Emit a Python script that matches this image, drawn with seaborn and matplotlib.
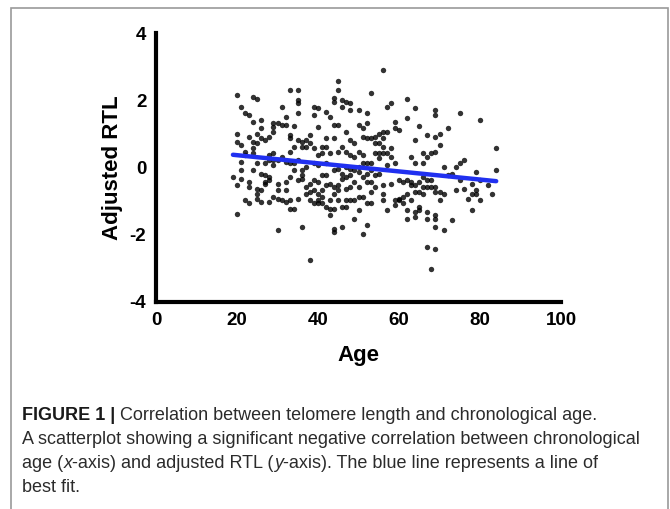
import numpy as np
import pandas as pd
import matplotlib
matplotlib.use("Agg")
import matplotlib.pyplot as plt
from matplotlib.patches import Rectangle
import seaborn as sns

# ---- data ----
ages = [19, 20, 21, 22, 23, 24, 25, 26, 27, 28, 29, 30, 31, 32, 33, 34, 35, 36, 37, 38,
        39, 40, 41, 42, 43, 44, 45, 46, 47, 48, 49, 50, 51, 52, 53, 54, 55, 56, 57, 58,
        59, 60, 61, 62, 63, 64, 65, 66, 67, 68, 69, 70, 71, 72, 73, 74, 75, 76, 77, 78,
        79, 80, 82, 83, 84]
rtl_by_age = [
    [-0.28],
    [2.16, 0.99, 0.77, -0.53, -1.37],
    [1.81, 0.67, 0.17, -0.08, -0.35],
    [1.61, 0.47, 0.37, -0.98],
    [1.56, 0.92, -0.43, -0.58, -1.07],
    [2.11, 1.36, 0.77, 0.57, 0.42, -0.08],
    [2.03, 1.01, 0.72, 0.12, -0.63, -0.78, -0.93],
    [1.41, 1.16, 0.87, -0.18, -0.68, -1.02],
    [0.82, 0.12, -0.23, -0.43, -0.48],
    [0.92, 0.37, 0.22, -0.28, -0.38, -1.02],
    [1.31, 1.21, 1.06, 0.42, 0.22, 0.07, -0.88],
    [1.31, 0.22, -0.48, -0.68, -0.93, -1.87],
    [1.81, 1.26, 0.32, -0.98],
    [1.51, 1.26, 0.17, -0.43, -0.68, -1.02],
    [2.29, 0.97, 0.87, 0.47, 0.12, -0.28, -0.98, -1.22],
    [1.23, 0.62, 0.12, -0.08, -1.22],
    [2.29, 2.01, 1.91, 1.61, 0.82, 0.22, -0.38, -0.93],
    [0.77, 0.62, -0.08, -0.23, -0.33, -1.77],
    [0.82, 0.62, 0.02, -0.58, -0.78],
    [0.97, 0.72, -0.48, -0.73, -0.98, -2.75],
    [1.81, 1.56, 0.57, 0.12, -0.38, -0.68, -1.07],
    [1.76, 1.21, 0.37, 0.07, -0.43, -0.78, -0.98, -1.07],
    [0.62, 0.42, -0.23, -0.68, -0.88, -1.07],
    [1.66, 0.87, 0.62, 0.12, -0.23, -0.53, -1.17],
    [1.51, 0.42, -0.48, -0.98, -1.22, -1.42],
    [2.06, 1.96, 1.26, 0.87, -0.08, -0.58, -0.78, -1.22, -1.82, -1.92],
    [2.56, 2.29, 1.26, 0.47, -0.03, -0.53, -0.68, -0.98],
    [2.01, 1.81, 0.62, -0.18, -0.33, -1.17, -1.77],
    [1.96, 1.06, 0.47, 0.02, -0.28, -0.63, -0.98, -1.17],
    [1.91, 1.71, 0.82, 0.37, -0.03, -0.23, -0.58, -0.98],
    [0.72, 0.32, -0.08, -0.43, -0.98, -1.52],
    [1.71, 1.26, 0.47, 0.02, -0.13, -0.58, -0.88, -1.27],
    [1.16, 0.92, 0.37, 0.12, -0.28, -0.88, -1.97],
    [1.61, 1.31, 0.87, 0.12, -0.18, -0.43, -1.07, -1.72],
    [2.23, 0.87, 0.12, -0.08, -0.43, -0.73, -1.07],
    [0.92, 0.72, 0.42, -0.23, -0.58],
    [1.01, 0.72, 0.42, 0.27, -0.18],
    [2.91, 1.06, 0.87, 0.62, 0.42, -0.53, -0.78, -0.98],
    [1.81, 1.06, 0.42, 0.07, -1.27],
    [1.91, 0.57, 0.32, -0.48],
    [1.36, 1.16, 0.12, -0.98, -1.12],
    [1.11, -0.38, -0.93, -0.98],
    [-0.43, -0.88, -1.07],
    [2.03, 1.46, -0.38, -0.78, -1.27, -1.52],
    [0.32, -0.43, -0.53, -0.98],
    [1.76, 0.82, 0.12, -0.53, -0.73, -1.32, -1.47],
    [1.23, -0.43, -0.73, -1.17, -1.27],
    [0.42, 0.12, -0.28, -0.58, -0.78],
    [0.97, 0.32, -0.38, -0.58, -1.32, -1.52, -2.37],
    [0.42, -0.38, -0.58, -3.01],
    [1.71, 1.56, 0.92, 0.47, -0.58, -0.73, -1.42, -1.52, -1.77, -2.42],
    [1.01, 0.67, -0.73, -0.98],
    [0.02, -0.78, -1.87],
    [1.16, -0.23],
    [-0.18, -1.57],
    [0.02, -0.68],
    [1.61, 0.12, -0.38],
    [0.22, -0.63],
    [-0.93],
    [-0.48, -0.78, -1.27],
    [-0.13, -0.68, -0.78],
    [1.41, -0.38, -0.98],
    [-0.53],
    [-0.78],
    [0.57, -0.08],
]
x_ticks = [0, 20, 40, 60, 80, 100]
y_ticks = [-4, -2, 0, 2, 4]
x_label = "Age"
y_label = "Adjusted RTL"
# caption: list of lines, each a list of (text, style) segments
caption_lines = [
    [("FIGURE 1 | ", "bold"), ("Correlation between telomere length and chronological age.", "normal")],
    [("A scatterplot showing a significant negative correlation between chronological", "normal")],
    [("age (", "normal"), ("x", "italic"), ("-axis) and adjusted RTL (", "normal"),
     ("y", "italic"), ("-axis). The blue line represents a line of", "normal")],
    [("best fit.", "normal")],
]

rows = []
for a, vals in zip(ages, rtl_by_age):
    for v in vals:
        rows.append((a, v))
df = pd.DataFrame(rows, columns=["Age", "RTL"])

# ---- figure ----
sns.set_style("white")
plt.rcParams["font.family"] = ["Liberation Sans", "DejaVu Sans"]
plt.rcParams["text.color"] = "black"
plt.rcParams["axes.labelcolor"] = "black"
plt.rcParams["xtick.color"] = "black"
plt.rcParams["ytick.color"] = "black"

W, H = 670, 509
fig = plt.figure(figsize=(W / 100, H / 100), dpi=100)
ax = fig.add_axes([156 / W, 1 - 302 / H, (561 - 156) / W, (302 - 33) / H])

sns.regplot(data=df, x="Age", y="RTL", ax=ax, ci=None, truncate=True,
            scatter_kws=dict(s=15, color="black", linewidths=0, zorder=3),
            line_kws=dict(color="#2030f0", lw=3.2, zorder=4, solid_capstyle="round"))

ax.set_xlim(0, 100)
ax.set_ylim(-4, 4)
ax.set_xticks(x_ticks)
ax.set_yticks(y_ticks)
ax.set_xticklabels([str(t) for t in x_ticks])
ax.set_yticklabels([str(t) for t in y_ticks])
for sp in ["top", "right"]:
    ax.spines[sp].set_visible(False)
for sp in ["left", "bottom"]:
    ax.spines[sp].set_linewidth(3)
    ax.spines[sp].set_color("black")
    ax.spines[sp].set_capstyle("projecting")
ax.tick_params(axis="both", direction="out", length=6, width=3, color="black",
               labelcolor="black", labelsize=13.5, pad=1)
for lab in ax.get_xticklabels() + ax.get_yticklabels():
    lab.set_fontweight("bold")
ax.set_xlabel(x_label, fontsize=16, fontweight="bold", labelpad=12, color="black")
ax.set_ylabel(y_label, fontsize=16, fontweight="bold", labelpad=5, color="black")
ax.patch.set_alpha(0)

# border frame
fig.patches.append(Rectangle((11 / W, -0.05), (668 - 11) / W, 1 - 8 / H + 0.05,
                             transform=fig.transFigure, fill=False,
                             edgecolor="#9a9a9a", lw=1.2))

# caption
fig.canvas.draw()
renderer = fig.canvas.get_renderer()
y0 = 416
for i, segs in enumerate(caption_lines):
    yy = 1 - (y0 + i * 24) / H
    xpx = 22
    for text, style in segs:
        kw = dict(fontsize=13, color="#2b2b2b", va="center")
        if style == "bold":
            kw["fontweight"] = "bold"
            kw["color"] = "#1a1a1a"
        elif style == "italic":
            kw["fontstyle"] = "italic"
        t = fig.text(xpx / W, yy, text, **kw)
        bb = t.get_window_extent(renderer=renderer)
        xpx = bb.x1

fig.savefig("out.png", dpi=100)
